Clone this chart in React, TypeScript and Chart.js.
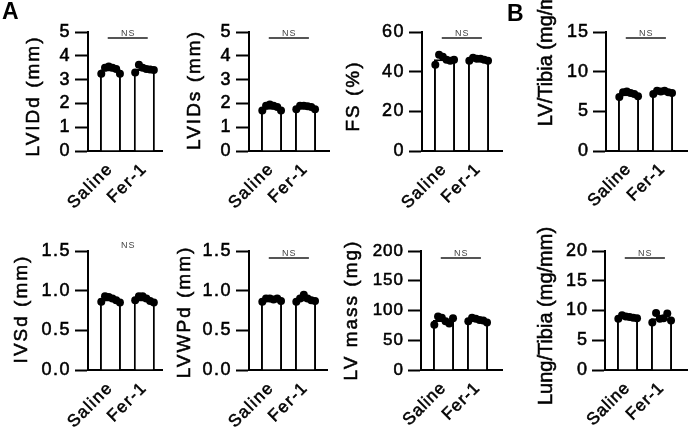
import React, { useEffect, useRef } from 'react';
import { Chart, registerables } from 'chart.js';

Chart.register(...registerables);

const FONT = '"Liberation Sans", Arial, Helvetica, sans-serif';

// ---------- data ----------
const groups = ['Saline', 'Fer-1'];
const statLabel = 'NS';
const panelLetters = ['A', 'B'];

const lviddTitle = 'LVIDd (mm)';
const lviddTicks = ['0', '1', '2', '3', '4', '5'];
const lviddMeans = [3.42, 3.45];
const lviddSaline = [3.25, 3.5, 3.55, 3.5, 3.45, 3.25];
const lviddFer1 = [3.3, 3.62, 3.5, 3.45, 3.42, 3.4];

const lvidsTitle = 'LVIDs (mm)';
const lvidsTicks = ['0', '1', '2', '3', '4', '5'];
const lvidsMeans = [1.82, 1.83];
const lvidsSaline = [1.7, 1.9, 1.95, 1.9, 1.85, 1.7];
const lvidsFer1 = [1.75, 1.9, 1.9, 1.88, 1.85, 1.75];

const fsTitle = 'FS (%)';
const fsTicks = ['0', '20', '40', '60'];
const fsMeans = [46.2, 46.2];
const fsSaline = [43.5, 48.5, 47.5, 46, 45.5, 46];
const fsFer1 = [45.5, 47, 46.5, 46.5, 46, 45.5];

const lvTibiaTitle = 'LV/Tibia (mg/mm)';
const lvTibiaTicks = ['0', '5', '10', '15'];
const lvTibiaMeans = [7.15, 7.4];
const lvTibiaSaline = [6.8, 7.4, 7.5, 7.3, 7.2, 6.9];
const lvTibiaFer1 = [7.2, 7.6, 7.5, 7.6, 7.4, 7.3];

const ivsdTitle = 'IVSd (mm)';
const ivsdTicks = ['0.0', '0.5', '1.0', '1.5'];
const ivsdMeans = [0.89, 0.89];
const ivsdSaline = [0.86, 0.93, 0.92, 0.9, 0.88, 0.85];
const ivsdFer1 = [0.88, 0.93, 0.93, 0.9, 0.87, 0.85];

const lvwpdTitle = 'LVWPd (mm)';
const lvwpdTicks = ['0.0', '0.5', '1.0', '1.5'];
const lvwpdMeans = [0.88, 0.89];
const lvwpdSaline = [0.86, 0.9, 0.9, 0.89, 0.9, 0.87];
const lvwpdFer1 = [0.86, 0.9, 0.95, 0.9, 0.88, 0.87];

const lvMassTitle = 'LV mass (mg)';
const lvMassTicks = ['0', '50', '100', '150', '200'];
const lvMassMeans = [84, 84];
const lvMassSaline = [76, 90, 88, 82, 78, 87];
const lvMassFer1 = [82, 88, 86, 84, 83, 80];

const lungTibiaTitle = 'Lung/Tibia (mg/mm)';
const lungTibiaTicks = ['0', '5', '10', '15', '20'];
const lungTibiaMeans = [8.9, 8.7];
const lungTibiaSaline = [8.6, 9.2, 9.0, 8.9, 8.8, 8.7];
const lungTibiaFer1 = [8.0, 9.6, 8.6, 8.7, 9.5, 8.3];

// horizontal scatter of the dots inside each bar (in category units)
const jitter = [-0.27, -0.16, -0.05, 0.06, 0.17, 0.28];

// ---------- layout (page pixels) ----------
type Layout = {
  axisX: number; rightX: number; top: number; bottom: number; canvasTop: number; canvasH: number;
  titleX: number; titleY: number; titleSize: number; titleSpacing: number;
  tickSize: number; spacing: number; nsLine: boolean; nsTextDy: number; nsLineDy: number;
};
const ROW1 = { top: 32, bottom: 151, canvasTop: 0, canvasH: 219 };
const ROW2 = { top: 251, bottom: 370, canvasTop: 221, canvasH: 215 };
const A_TXT = { titleSize: 19, titleSpacing: 2, tickSize: 18, spacing: 1.5 };
const B_TXT = { titleSize: 20, titleSpacing: 0, tickSize: 18, spacing: 1 };
const TEXT_STROKE = 0.55;

const panels = [
  { title: lviddTitle, ticks: lviddTicks, means: lviddMeans, series: [lviddSaline, lviddFer1],
    L: { ...ROW1, ...A_TXT, axisX: 88, rightX: 163, titleX: 34, titleY: 96, nsLine: true, nsTextDy: 4, nsLineDy: 5.5 } },
  { title: lvidsTitle, ticks: lvidsTicks, means: lvidsMeans, series: [lvidsSaline, lvidsFer1],
    L: { ...ROW1, ...A_TXT, axisX: 249, rightX: 329, titleX: 195, titleY: 90, nsLine: true, nsTextDy: 4, nsLineDy: 5.5 } },
  { title: fsTitle, ticks: fsTicks, means: fsMeans, series: [fsSaline, fsFer1],
    L: { ...ROW1, ...A_TXT, axisX: 422, rightX: 502, titleX: 353.5, titleY: 96, nsLine: true, nsTextDy: 4, nsLineDy: 5.5 } },
  { title: lvTibiaTitle, ticks: lvTibiaTicks, means: lvTibiaMeans, series: [lvTibiaSaline, lvTibiaFer1],
    L: { ...ROW1, ...B_TXT, axisX: 606, rightX: 687, titleX: 546, titleY: 48, nsLine: true, nsTextDy: 4, nsLineDy: 5.5 } },
  { title: ivsdTitle, ticks: ivsdTicks, means: ivsdMeans, series: [ivsdSaline, ivsdFer1],
    L: { ...ROW2, ...A_TXT, axisX: 88, rightX: 163, titleX: 21.5, titleY: 309, nsLine: false, nsTextDy: -3, nsLineDy: 7 } },
  { title: lvwpdTitle, ticks: lvwpdTicks, means: lvwpdMeans, series: [lvwpdSaline, lvwpdFer1],
    L: { ...ROW2, ...A_TXT, axisX: 249, rightX: 327, titleX: 185, titleY: 312, nsLine: true, nsTextDy: 5, nsLineDy: 7 } },
  { title: lvMassTitle, ticks: lvMassTicks, means: lvMassMeans, series: [lvMassSaline, lvMassFer1],
    L: { ...ROW2, ...A_TXT, tickSize: 17, spacing: 1, axisX: 421, rightX: 502, titleX: 351.7, titleY: 310, nsLine: true, nsTextDy: 5, nsLineDy: 7 } },
  { title: lungTibiaTitle, ticks: lungTibiaTicks, means: lungTibiaMeans, series: [lungTibiaSaline, lungTibiaFer1],
    L: { ...ROW2, ...B_TXT, axisX: 605, rightX: 687, titleX: 546, titleY: 316, nsLine: true, nsTextDy: 5, nsLineDy: 7 } },
];

const Y_AXIS_W = 88;
const PX_PER_GROUP = 34;
const FIRST_OFFSET = 22.5;

// ---------- plugins ----------
const spacingPlugin = {
  id: 'letterSpacing',
  beforeLayout(chart: any, _a: any, opts: any) { chart.ctx.letterSpacing = `${opts.px || 0}px`; },
  beforeDraw(chart: any, _a: any, opts: any) { chart.ctx.letterSpacing = `${opts.px || 0}px`; },
};

const yTitlePlugin = {
  id: 'yTitle',
  afterDraw(chart: any, _a: any, opts: any) {
    const ctx = chart.ctx;
    ctx.save();
    ctx.letterSpacing = `${opts.spacing || 0}px`;
    ctx.font = `${opts.size}px ${FONT}`;
    ctx.fillStyle = '#000';
    ctx.strokeStyle = '#000';
    ctx.lineWidth = TEXT_STROKE;
    ctx.translate(opts.x, opts.y);
    ctx.rotate(-Math.PI / 2);
    ctx.textAlign = 'center';
    ctx.textBaseline = 'middle';
    ctx.fillText(opts.text, 0, 0);
    ctx.strokeText(opts.text, 0, 0);
    ctx.restore();
  },
};

const nsPlugin = {
  id: 'nsMark',
  afterDraw(chart: any, _a: any, opts: any) {
    const { ctx, chartArea, scales } = chart;
    const x0 = scales.x.getPixelForValue(-0.08);
    const x1 = scales.x.getPixelForValue(1.1);
    ctx.save();
    if (opts.line) {
      ctx.strokeStyle = '#555';
      ctx.lineWidth = 1.8;
      ctx.beginPath();
      const y = Math.round(chartArea.top + opts.lineDy);
      ctx.moveTo(x0, y);
      ctx.lineTo(x1, y);
      ctx.stroke();
    }
    ctx.letterSpacing = '1px';
    ctx.fillStyle = '#444';
    ctx.font = `9px ${FONT}`;
    ctx.textAlign = 'center';
    ctx.textBaseline = 'alphabetic';
    ctx.fillText(opts.text, (x0 + x1) / 2 + 0.5, chartArea.top + opts.textDy);
    ctx.restore();
  },
};

function buildConfig(p: any, canvasLeft: number, canvasW: number) {
  const L: Layout = p.L;
  const chartW = L.rightX - L.axisX;
  const xMin = -FIRST_OFFSET / PX_PER_GROUP;
  const xMax = (chartW - FIRST_OFFSET) / PX_PER_GROUP;
  const padTop = L.top - L.canvasTop;
  const xAxisH = L.canvasH - padTop - (L.bottom - L.top);
  const yMax = Number(p.ticks[p.ticks.length - 1]);
  const tickVals = p.ticks.map((t: string) => Number(t));

  const dotSets = p.series.map((vals: number[], gi: number) => ({
    type: 'scatter',
    order: 1,
    data: vals.map((v, k) => ({ x: gi + jitter[k], y: v })),
    backgroundColor: '#000',
    borderColor: '#000',
    borderWidth: 0,
    pointRadius: 4,
    showLine: false,
  }));

  return {
    type: 'bar',
    data: {
      datasets: [
        {
          type: 'bar',
          order: 2,
          data: p.means.map((m: number, i: number) => ({ x: i, y: m })),
          backgroundColor: '#fff',
          borderColor: '#000',
          borderWidth: 2,
          barPercentage: 0.62,
          categoryPercentage: 1,
        },
        ...dotSets,
      ],
    },
    plugins: [spacingPlugin, yTitlePlugin, nsPlugin],
    options: {
      responsive: false,
      animation: false,
      events: [],
      layout: { padding: { top: padTop, left: 0, right: canvasW - (L.rightX - canvasLeft), bottom: 0 } },
      plugins: {
        legend: { display: false },
        tooltip: { enabled: false },
        letterSpacing: { px: L.spacing },
        yTitle: { text: p.title, x: L.titleX - canvasLeft, y: L.titleY - L.canvasTop, size: L.titleSize, spacing: L.titleSpacing },
        nsMark: { text: statLabel, line: L.nsLine, textDy: L.nsTextDy, lineDy: L.nsLineDy },
      },
      scales: {
        x: {
          type: 'linear',
          offset: false,
          min: xMin,
          max: xMax,
          z: 1,
          afterBuildTicks: (axis: any) => { axis.ticks = groups.map((_g, i) => ({ value: i })); },
          afterFit: (s: any) => { s.height = xAxisH; },
          ticks: {
            autoSkip: false,
            minRotation: 45,
            maxRotation: 45,
            padding: 8,
            color: '#000',
            textStrokeColor: '#000',
            textStrokeWidth: TEXT_STROKE,
            font: { family: FONT, size: 17 },
            callback: (v: any) => groups[Math.round(v)] ?? '',
          },
          grid: { display: false, drawTicks: false },
          border: { display: true, color: '#000', width: 2 },
        },
        y: {
          type: 'linear',
          min: 0,
          max: yMax,
          afterBuildTicks: (axis: any) => { axis.ticks = tickVals.map((v: number) => ({ value: v })); },
          afterFit: (s: any) => { s.width = Y_AXIS_W; },
          ticks: {
            autoSkip: false,
            padding: 4,
            color: '#000',
            textStrokeColor: '#000',
            textStrokeWidth: TEXT_STROKE,
            font: { family: FONT, size: L.tickSize },
            callback: (_v: any, i: number) => p.ticks[i],
          },
          grid: { display: true, drawOnChartArea: false, drawTicks: true, tickLength: 13, tickWidth: 2, tickColor: '#000', color: '#000' },
          border: { display: true, color: '#000', width: 2 },
        },
      },
    },
  };
}

function PanelChart({ p }: { p: any }) {
  const ref = useRef<HTMLCanvasElement>(null);
  const L: Layout = p.L;
  const canvasLeft = Math.max(0, L.axisX - Y_AXIS_W);
  const canvasW = Math.min(692, L.rightX + 5) - canvasLeft;
  useEffect(() => {
    const chart = new Chart(ref.current as HTMLCanvasElement, buildConfig(p, canvasLeft, canvasW) as any);
    return () => chart.destroy();
  }, []);
  return (
    <div style={{ position: 'absolute', left: canvasLeft, top: L.canvasTop, width: canvasW, height: L.canvasH }}>
      <canvas ref={ref} width={canvasW} height={L.canvasH} style={{ width: canvasW, height: L.canvasH, display: 'block' }} />
    </div>
  );
}

export default function App() {
  const letterStyle: React.CSSProperties = {
    position: 'absolute', fontFamily: FONT, fontWeight: 'bold', fontSize: 23, lineHeight: '23px', color: '#000',
  };
  return (
    <div style={{ position: 'fixed', left: 0, top: 0, width: 692, height: 436, background: '#fff', overflow: 'hidden' }}>
      {panels.map((p, i) => <PanelChart key={i} p={p} />)}
      <div style={{ ...letterStyle, left: 2, top: 0 }}>{panelLetters[0]}</div>
      <div style={{ ...letterStyle, left: 507, top: 2 }}>{panelLetters[1]}</div>
    </div>
  );
}
